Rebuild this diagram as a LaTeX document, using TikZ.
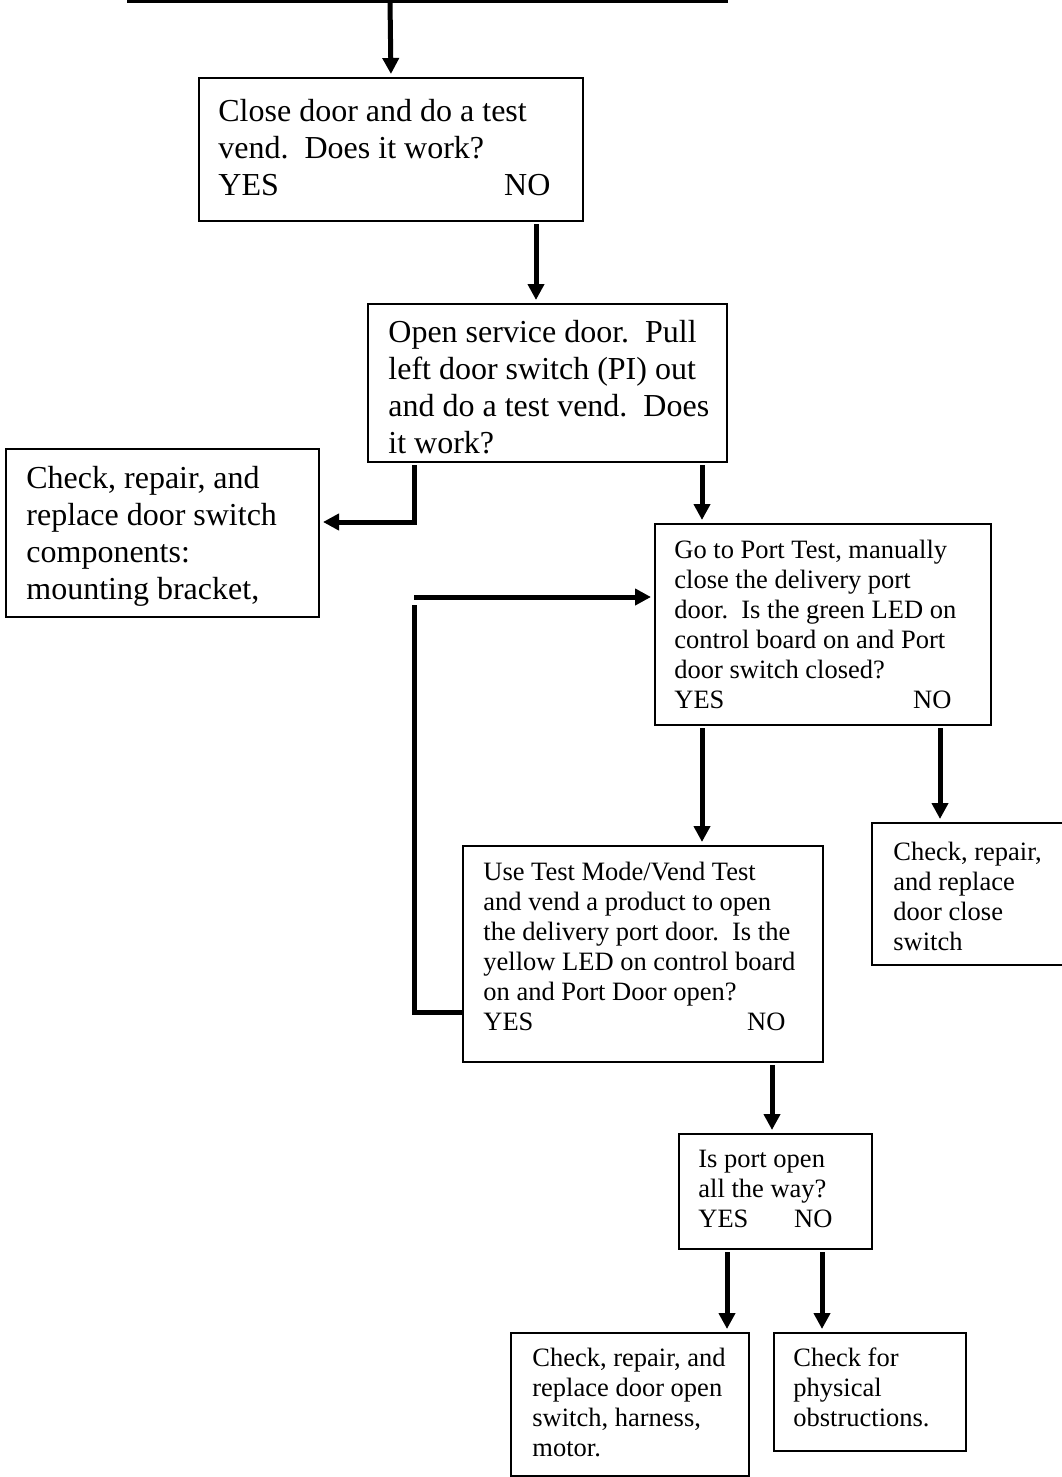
\documentclass[tikz,border=0pt]{standalone}
\usepackage{fontspec}
\setmainfont{Liberation Serif}
\usetikzlibrary{arrows.meta}

% text sizes used in the boxes
\newcommand\bigtxt{\fontsize{16pt}{18.5pt}\selectfont}
\newcommand\smalltxt{\fontsize{13.25pt}{15pt}\selectfont}
% a block of lines whose reference point is the first baseline
\newcommand\flowlines[1]{\vtop{\lineskiplimit=-50pt\lineskip=0pt #1}}
\newcommand\fline[1]{\hbox{#1}}

\begin{document}
\begin{tikzpicture}[x=0.5pt,y=-0.5pt,
  box/.style 2 args={draw, line width=1pt, anchor=north west, inner sep=0pt,
    minimum width=#1*0.5pt, minimum height=#2*0.5pt},
  txt/.style={anchor=base west, inner sep=0pt},
  bigt/.style={txt, font=\bigtxt},
  smallt/.style={txt, font=\smalltxt},
  conn/.style={line width=2.5pt},
  arr/.style={line width=2.5pt, -{Triangle[length=8pt,width=8pt]},
    shorten >=1.5pt, shorten <=1pt}]

\useasboundingbox (0,0) rectangle (1061,1477);

% boxes
\node[box={384}{143}] (b1) at (198,77) {};
\node[box={359}{158}] (b2) at (367,303) {};
\node[box={313}{168}] (lb) at (5,448) {};
\node[box={336}{201}] (b3) at (654,523) {};
\node[box={360}{216}] (b4) at (462,845) {};
\node[box={250}{142}] (b5) at (871,822) {};
\node[box={193}{115}] (b6) at (678,1133) {};
\node[box={238}{143}] (b7) at (510,1332) {};
\node[box={192}{118}] (b8) at (773,1332) {};

% box texts
\node[bigt] (t1) at (218,121) {\flowlines{%
  \fline{Close door and do a test}%
  \fline{vend.\ \ Does it work?}%
  \hbox to 166pt{YES\hfill NO}}};
\node[bigt] (t2) at (388,342) {\flowlines{%
  \fline{Open service door.\ \ Pull}%
  \fline{left door switch (PI) out}%
  \fline{and do a test vend.\ \ Does}%
  \fline{it work?}}};
\node[bigt] (tl) at (26,488) {\flowlines{%
  \fline{Check, repair, and}%
  \fline{replace door switch}%
  \fline{components:}%
  \fline{mounting bracket,}}};
\node[smallt] (t3) at (674,558) {\flowlines{%
  \fline{Go to Port Test, manually}%
  \fline{close the delivery port}%
  \fline{door.\ \ Is the green LED on}%
  \fline{control board on and Port}%
  \fline{door switch closed?}%
  \hbox to 138.5pt{YES\hfill NO}}};
\node[smallt] (t4) at (483,880) {\flowlines{%
  \fline{Use Test Mode/Vend Test}%
  \fline{and vend a product to open}%
  \fline{the delivery port door.\ \ Is the}%
  \fline{yellow LED on control board}%
  \fline{on and Port Door open?}%
  \hbox to 151pt{YES\hfill NO}}};
\node[smallt] (t5) at (893,860) {\flowlines{%
  \fline{Check, repair,}%
  \fline{and replace}%
  \fline{door close}%
  \fline{switch}}};
\node[smallt] (t6) at (698,1167) {\flowlines{%
  \fline{Is port open}%
  \fline{all the way?}%
  \hbox to 67pt{YES\hfill NO}}};
\node[smallt] (t7) at (532,1366) {\flowlines{%
  \fline{Check, repair, and}%
  \fline{replace door open}%
  \fline{switch, harness,}%
  \fline{motor.}}};
\node[smallt] (t8) at (793,1366) {\flowlines{%
  \fline{Check for}%
  \fline{physical}%
  \fline{obstructions.}}};

% connector positions
\coordinate (topL) at (127,1.5);
\coordinate (topR) at (728,1.5);
\coordinate (topM) at (390,1.5);
\coordinate (x536) at (536,0);
\coordinate (j1) at (414,522);
\coordinate (x702) at (702,0);
\coordinate (x940) at (940,0);
\coordinate (lpB) at (414,1012);
\coordinate (lpT) at (414,605);
\coordinate (lpH) at (414,597);
\coordinate (x772) at (772,0);
\coordinate (x727) at (727,0);
\coordinate (x822) at (822,0);

% edge coming in from above
\draw[line width=1.2pt] (topL) -- (topR);
\draw[arr, shorten <=0pt] (topM) -- (b1.north);

% connectors
\draw[arr] (b1.south -| x536) -- (b2.north -| x536);
\draw[arr] (b2.south -| j1) -- (j1) -- (lb.east |- j1);
\draw[arr] (b2.south -| x702) -- (b3.north -| x702);
\draw[arr] (b3.south -| x702) -- (b4.north -| x702);
\draw[arr] (b3.south -| x940) -- (b5.north -| x940);
\draw[conn] (b4.west |- lpB) -- (lpB) -- (lpT);
\draw[arr, shorten <=0pt] (lpH) -- (b3.west |- lpH);
\draw[arr] (b4.south -| x772) -- (b6.north -| x772);
\draw[arr] (b6.south -| x727) -- (b7.north -| x727);
\draw[arr] (b6.south -| x822) -- (b8.north -| x822);

\end{tikzpicture}
\end{document}
